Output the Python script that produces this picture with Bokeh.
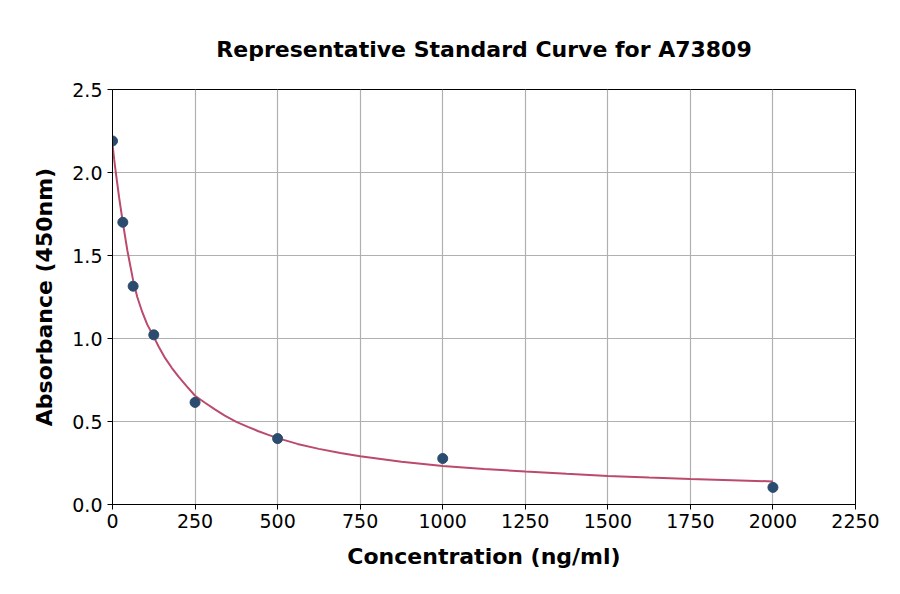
from bokeh.plotting import figure
from bokeh.embed import file_html
from bokeh.resources import INLINE
from bokeh.models import FixedTicker, PrintfTickFormatter, Range1d

# Standard points
conc = [0, 31.25, 62.5, 125, 250, 500, 1000, 2000]
absorb = [2.19, 1.70, 1.315, 1.022, 0.615, 0.397, 0.277, 0.103]

# Fitted curve
curve_x = [0, 5, 10, 20, 31.25, 45, 62.5, 75, 90, 105, 125, 140, 160, 180, 200,
           225, 250, 280, 310, 340, 375, 410, 440, 470, 500, 560, 625, 690,
           750, 875, 1000, 1125, 1250, 1375, 1500, 1625, 1750, 1875, 2000]
curve_y = [2.17, 2.08, 2.00, 1.85, 1.70, 1.53, 1.35, 1.25, 1.16, 1.085, 1.01,
           0.95, 0.88, 0.822, 0.77, 0.712, 0.655, 0.613, 0.573, 0.535, 0.498,
           0.468, 0.443, 0.421, 0.40, 0.365, 0.335, 0.31, 0.29, 0.257, 0.232,
           0.214, 0.199, 0.185, 0.172, 0.162, 0.153, 0.146, 0.139]

x_ticks = [0, 250, 500, 750, 1000, 1250, 1500, 1750, 2000, 2250]
y_ticks = [0.0, 0.5, 1.0, 1.5, 2.0, 2.5]

title = "Representative Standard Curve for A73809"
x_label = "Concentration (ng/ml)"
y_label = "Absorbance (450nm)"

p = figure(width=884, height=578, output_backend="svg", toolbar_location=None,
           x_range=Range1d(0, 2250), y_range=Range1d(0, 2.5),
           min_border_left=112, min_border_right=29, min_border_top=89,
           min_border_bottom=74, title=title)

p.title.text_font = "DejaVu Sans"
p.title.text_font_size = "22px"
p.title.text_font_style = "bold"
p.title.align = "center"
p.title.text_color = "black"
p.title.standoff = 56

p.outline_line_color = "black"
p.outline_line_width = 1
p.outline_line_alpha = 1

for ax in (p.xaxis[0], p.yaxis[0]):
    ax.axis_line_color = "black"
    ax.major_tick_line_color = "black"
    ax.major_tick_out = 5
    ax.major_tick_in = 0
    ax.minor_tick_line_color = None
    ax.major_label_text_font = "DejaVu Sans"
    ax.major_label_text_font_size = "19px"
    ax.major_label_text_color = "black"
    ax.axis_label_text_font = "DejaVu Sans"
    ax.axis_label_text_font_size = "22px"
    ax.axis_label_text_font_style = "bold"
    ax.axis_label_text_color = "black"

p.xaxis.ticker = FixedTicker(ticks=x_ticks)
p.yaxis.ticker = FixedTicker(ticks=y_ticks)
p.yaxis.formatter = PrintfTickFormatter(format="%.1f")
p.xaxis.axis_label = x_label
p.yaxis.axis_label = y_label
p.xaxis.axis_label_standoff = 13
p.yaxis.axis_label_standoff = 12
p.xaxis.major_label_standoff = 4
p.yaxis.major_label_standoff = 5

p.xgrid.ticker = FixedTicker(ticks=x_ticks)
p.ygrid.ticker = FixedTicker(ticks=y_ticks)
p.grid.grid_line_color = "#b0b0b0"
p.grid.grid_line_width = 1.2

p.line(curve_x, curve_y, line_color="#bb4a6c", line_width=2)
p.scatter(conc, absorb, size=10, fill_color="#2b4c6f", line_color="#2b4c6f")

open("out.html", "w").write(file_html(p, INLINE))
